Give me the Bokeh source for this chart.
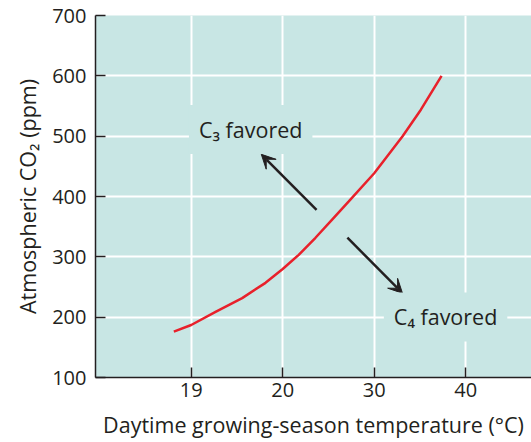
from bokeh.plotting import figure
from bokeh.models import FixedTicker, Label, Arrow, VeeHead, Range1d
from bokeh.embed import file_html
from bokeh.resources import INLINE

# Data
temp = [8.10, 10.0, 12.66, 15.57, 18.12, 20.0, 21.75, 23.58, 25.4, 27.22, 30.0, 33.1, 35.1, 37.36]
co2 = [176.0, 187.0, 208.8, 231.6, 256.9, 279.8, 303.3, 331.6, 361.8, 391.8, 438.5, 500.0, 543.9, 600.0]

x_ticks = [10, 20, 30, 40]
x_tick_labels = ["19", "20", "30", "40"]
y_ticks = [100, 200, 300, 400, 500, 600, 700]

BG = "#C8E6E4"
TXT = "#231F20"
RED = "#E8212B"
FONT = "Open Sans"

p = figure(width=531, height=442, output_backend="svg", toolbar_location=None,
           x_range=Range1d(-0.46, 47.19), y_range=Range1d(100, 700),
           min_border_left=95, min_border_right=0, min_border_top=15, min_border_bottom=65)
p.background_fill_color = BG
p.border_fill_color = "white"
p.outline_line_color = None

p.xaxis.ticker = FixedTicker(ticks=x_ticks)
p.xaxis.major_label_overrides = {t: l for t, l in zip(x_ticks, x_tick_labels)}
p.yaxis.ticker = FixedTicker(ticks=y_ticks)

for ax in (p.xaxis[0], p.yaxis[0]):
    ax.major_tick_in = 10
    ax.major_tick_out = 0
    ax.minor_tick_line_color = None
    ax.axis_line_color = TXT
    ax.axis_line_width = 1.5
    ax.major_tick_line_color = TXT
    ax.major_tick_line_width = 1.5
    ax.major_label_text_font = FONT
    ax.major_label_text_font_size = "20px"
    ax.major_label_text_color = TXT
    ax.axis_label_text_font = FONT
    ax.axis_label_text_font_size = "21.5px"
    ax.axis_label_text_color = TXT
    ax.axis_label_text_font_style = "normal"

p.xaxis.axis_label = "Daytime growing-season temperature (°C)"
p.yaxis.axis_label = "Atmospheric CO₂ (ppm)"
p.xaxis.major_label_standoff = 5
p.yaxis.major_label_standoff = 9
p.xaxis.axis_label_standoff = 10
p.yaxis.axis_label_standoff = 7

p.xgrid.ticker = FixedTicker(ticks=x_ticks)
p.ygrid.ticker = FixedTicker(ticks=y_ticks)
p.grid.grid_line_color = "white"
p.grid.grid_line_width = 2

p.line(temp, co2, line_color=RED, line_width=2.5)

p.add_layout(Arrow(end=VeeHead(size=14, fill_color=TXT, line_color=TXT),
                   x_start=23.7, y_start=377.8, x_end=17.66, y_end=469.9,
                   line_color=TXT, line_width=2.5))
p.add_layout(Arrow(end=VeeHead(size=14, fill_color=TXT, line_color=TXT),
                   x_start=27.07, y_start=331.8, x_end=33.09, y_end=239.7,
                   line_color=TXT, line_width=2.5))

for txt, x, y in [("C₃ favored", 16.5, 511), ("C₄ favored", 37.8, 200.3)]:
    p.add_layout(Label(x=x, y=y, text=txt, text_align="center", text_baseline="middle",
                       text_font=FONT, text_font_size="21.5px", text_color=TXT,
                       background_fill_color=BG, padding=10))

open("out.html", "w").write(file_html(p, INLINE))
